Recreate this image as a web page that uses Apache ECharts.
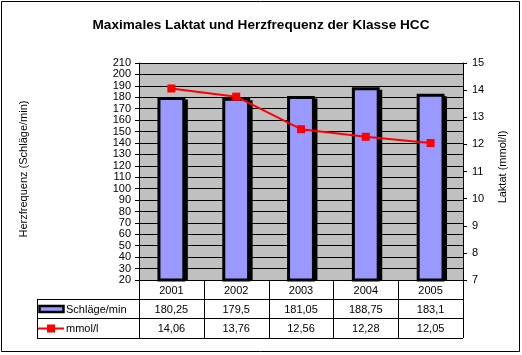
<!DOCTYPE html>
<html>
<head>
<meta charset="utf-8">
<script src="https://cdn.jsdelivr.net/npm/echarts@6/dist/echarts.min.js"></script>
<style>
html,body{margin:0;padding:0;background:#fff;}
#c{width:522px;height:355px;}
</style>
</head>
<body>
<div id="c"></div>
<script>
const categories = ['2001', '2002', '2003', '2004', '2005'];
const heartRate = [180.25, 179.5, 181.05, 188.75, 183.1];
const lactate = [14.06, 13.76, 12.56, 12.28, 12.05];
const heartName = 'Schläge/min';
const lactateName = 'mmol/l';
const titleText = 'Maximales Laktat und Herzfrequenz der Klasse HCC';
const leftAxisTitle = 'Herzfrequenz (Schläge/min)';
const rightAxisTitle = 'Laktat (mmol/l)';

const FONT = 'Liberation Sans, Arial, sans-serif';
const G = {left: 139, right: 463, top: 63, bottom: 280};
const rowY = [280, 299, 318, 338];
const tableLeft = 37;
const LEFT_MIN = 20;

function fmt(v) { return String(v).replace('.', ','); }

const chart = echarts.init(document.getElementById('c'), null, {renderer: 'canvas'});

const n = categories.length;
const colW = (G.right - G.left) / n;
const graphics = [];
// outer border
graphics.push({type: 'rect', shape: {x: 1.5, y: 1.5, width: 518, height: 350}, style: {fill: 'none', stroke: '#000', lineWidth: 1}, silent: true});
// title
graphics.push({type: 'text', x: 261, y: 25, style: {text: titleText, font: 'bold 13.6px ' + FONT, fill: '#000', textAlign: 'center', textVerticalAlign: 'middle'}});
// axis titles
graphics.push({type: 'text', x: 24, y: 169, rotation: Math.PI / 2, style: {text: leftAxisTitle, font: '11px ' + FONT, fill: '#000', textAlign: 'center', textVerticalAlign: 'middle'}});
graphics.push({type: 'text', x: 503, y: 167, rotation: Math.PI / 2, style: {text: rightAxisTitle, font: '11px ' + FONT, fill: '#000', textAlign: 'center', textVerticalAlign: 'middle'}});
// table horizontal lines
[rowY[1], rowY[2], rowY[3]].forEach(function (y) {
  graphics.push({type: 'line', shape: {x1: tableLeft, y1: y + 0.5, x2: G.right, y2: y + 0.5}, style: {stroke: '#000', lineWidth: 1}});
});
// legend column left border
graphics.push({type: 'line', shape: {x1: tableLeft + 0.5, y1: rowY[1], x2: tableLeft + 0.5, y2: rowY[3]}, style: {stroke: '#000', lineWidth: 1}});
// column dividers
for (let i = 0; i <= n; i++) {
  const x = Math.round(G.left + i * colW) + 0.5;
  graphics.push({type: 'line', shape: {x1: x, y1: rowY[0], x2: x, y2: rowY[3]}, style: {stroke: '#000', lineWidth: 1}});
}
// values
for (let i = 0; i < n; i++) {
  const cx = G.left + (i + 0.5) * colW;
  graphics.push({type: 'text', x: cx, y: (rowY[1] + rowY[2]) / 2 + 1, style: {text: fmt(heartRate[i]), font: '11px ' + FONT, fill: '#000', textAlign: 'center', textVerticalAlign: 'middle'}});
  graphics.push({type: 'text', x: cx, y: (rowY[2] + rowY[3]) / 2 + 1, style: {text: fmt(lactate[i]), font: '11px ' + FONT, fill: '#000', textAlign: 'center', textVerticalAlign: 'middle'}});
}
// legend icons
const r1c = (rowY[1] + rowY[2]) / 2;
const r2c = (rowY[2] + rowY[3]) / 2;
graphics.push({type: 'rect', shape: {x: 39.5, y: r1c - 2.5, width: 24, height: 6}, style: {fill: '#9999ff', stroke: '#000', lineWidth: 2.5}});
graphics.push({type: 'text', x: 66, y: r1c + 1, style: {text: heartName, font: '11px ' + FONT, fill: '#000', textAlign: 'left', textVerticalAlign: 'middle'}});
graphics.push({type: 'line', shape: {x1: 38, y1: r2c + 0.5, x2: 64, y2: r2c + 0.5}, style: {stroke: '#ff0000', lineWidth: 2}});
graphics.push({type: 'rect', shape: {x: 47, y: r2c - 3.5, width: 8, height: 8}, style: {fill: '#ff0000'}});
graphics.push({type: 'text', x: 66, y: r2c + 1, style: {text: lactateName, font: '11px ' + FONT, fill: '#000', textAlign: 'left', textVerticalAlign: 'middle'}});

function renderBar(params, api) {
  const idx = api.value(0);
  const top = api.coord([idx, api.value(1)]);
  const base = api.coord([idx, LEFT_MIN]);
  const w = api.size([1, 0])[0] * 0.43;
  const lw = 3, sh = 2.5;
  const x = top[0] - w / 2;
  const h = base[1] - top[1];
  return {
    type: 'group',
    children: [
      {type: 'rect', shape: {x: x + sh, y: top[1] + sh, width: w, height: h - sh}, style: {fill: '#000'}},
      {type: 'rect', shape: {x: x + lw / 2, y: top[1] + lw / 2, width: w - lw, height: h - lw / 2}, style: {fill: '#9999ff', stroke: '#000', lineWidth: lw}}
    ]
  };
}

const option = {
  animation: false,
  backgroundColor: '#fff',
  textStyle: {fontFamily: FONT},
  grid: {left: G.left, right: 522 - G.right, top: G.top, bottom: 355 - G.bottom, show: true, backgroundColor: '#c0c0c0', borderWidth: 0, containLabel: false},
  xAxis: {
    type: 'category', data: categories,
    axisLine: {show: true, lineStyle: {color: '#000', width: 1}},
    axisTick: {show: false},
    axisLabel: {show: true, color: '#000', fontSize: 11, fontFamily: FONT, margin: 5},
    splitLine: {show: false}
  },
  yAxis: [
    {
      type: 'value', min: LEFT_MIN, max: 210, interval: 10, position: 'left',
      axisLine: {show: true, lineStyle: {color: '#000', width: 1}},
      axisTick: {show: true, length: 4, lineStyle: {color: '#000'}},
      axisLabel: {color: '#000', fontSize: 11, fontFamily: FONT, margin: 8},
      splitLine: {show: true, lineStyle: {color: '#000', width: 1}}
    },
    {
      type: 'value', min: 7, max: 15, interval: 1, position: 'right',
      axisLine: {show: true, lineStyle: {color: '#000', width: 1}},
      axisTick: {show: true, length: 4, lineStyle: {color: '#000'}},
      axisLabel: {color: '#000', fontSize: 11, fontFamily: FONT, margin: 9},
      splitLine: {show: false}
    }
  ],
  series: [
    {
      name: heartName, type: 'custom', yAxisIndex: 0,
      data: heartRate.map(function (v, i) { return [i, v]; }),
      encode: {x: 0, y: 1},
      renderItem: renderBar
    },
    {
      name: lactateName, type: 'line', yAxisIndex: 1, data: lactate,
      symbol: 'rect', symbolSize: 8,
      lineStyle: {color: '#ff0000', width: 2},
      itemStyle: {color: '#ff0000'}
    }
  ],
  graphic: graphics
};
chart.setOption(option);
</script>
</body>
</html>
